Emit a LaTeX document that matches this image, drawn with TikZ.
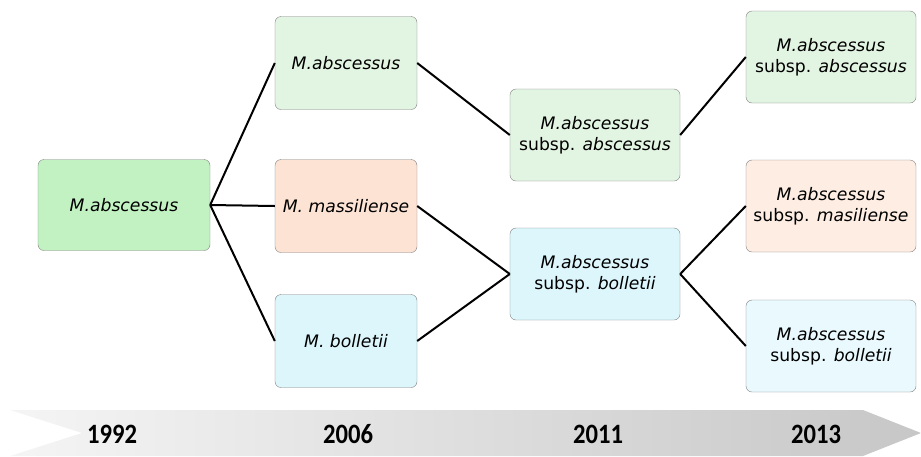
\documentclass[tikz,border=0pt]{standalone}
\usepackage{fontspec}
\setmainfont{DejaVu Sans}
\newfontfamily\yearfont{Carlito}
\usetikzlibrary{positioning}
\definecolor{greenA}{HTML}{C2F2C2}
\definecolor{greenB}{HTML}{E2F4E2}
\definecolor{peachA}{HTML}{FCE3D4}
\definecolor{peachB}{HTML}{FDEDE3}
\definecolor{cyanA}{HTML}{DCF6FC}
\definecolor{cyanB}{HTML}{E9F9FD}
\begin{document}
\begin{tikzpicture}[x=1pt,y=-1pt,
                    taxon/.style={rectangle,rounded corners=6pt,draw=black!50,align=center,inner sep=0pt,font=\fontsize{17.2}{21}\selectfont},
                    root/.style={taxon,fill=greenA,minimum width=172,minimum height=91},
                    mid/.style={taxon,minimum width=142,minimum height=93},
                    sub/.style={taxon,minimum width=170,minimum height=92},
                    branch/.style={line width=2pt,black},
                    year/.style={font=\yearfont\bfseries\fontsize{28}{28}\selectfont}
                ]
                    \useasboundingbox (0,0) rectangle (921,456);
                    % timeline
                    \path[left color=white!96!black,right color=black!22] (10,410) -- (863,410) -- (921,433) -- (863,456) -- (10,456) -- (82,433) -- cycle;
                    \node[year] (y1992) at (112,434) {\scalebox{0.88}[1]{1992}};
                    \node[year] (y2006) at (348,434) {\scalebox{0.88}[1]{2006}};
                    \node[year] (y2011) at (598,434) {\scalebox{0.88}[1]{2011}};
                    \node[year] (y2013) at (816,434) {\scalebox{0.88}[1]{2013}};
                    % 1992
                    \node[root] (A) at (124,205) {\textit{M.abscessus}};
                    % 2006
                    \node[mid,fill=greenB] (B1) at (346,63) {\textit{M.abscessus}};
                    \node[mid,fill=peachA] (B2) at (346,206) {\textit{M. massiliense}};
                    \node[mid,fill=cyanA] (B3) at (346,341) {\textit{M. bolletii}};
                    % 2011
                    \node[sub,fill=greenB] (C1) at (595,135) {\textit{M.abscessus}\\subsp. \textit{abscessus}};
                    \node[sub,fill=cyanA] (C2) at (595,274) {\textit{M.abscessus}\\subsp. \textit{bolletii}};
                    % 2013
                    \node[sub,fill=greenB] (D1) at (831,57) {\textit{M.abscessus}\\subsp. \textit{abscessus}};
                    \node[sub,fill=peachB] (D2) at (831,206) {\textit{M.abscessus}\\subsp. \textit{masiliense}};
                    \node[sub,fill=cyanB] (D3) at (831,346) {\textit{M.abscessus}\\subsp. \textit{bolletii}};
                    \foreach \a/\b in {A/B1,A/B2,A/B3,B1/C1,B2/C2,B3/C2,C1/D1,C2/D2,C2/D3}
                        {
                        \draw[branch] (\a.east) -- (\b.west);
                    }
                \end{tikzpicture}
\end{document}
